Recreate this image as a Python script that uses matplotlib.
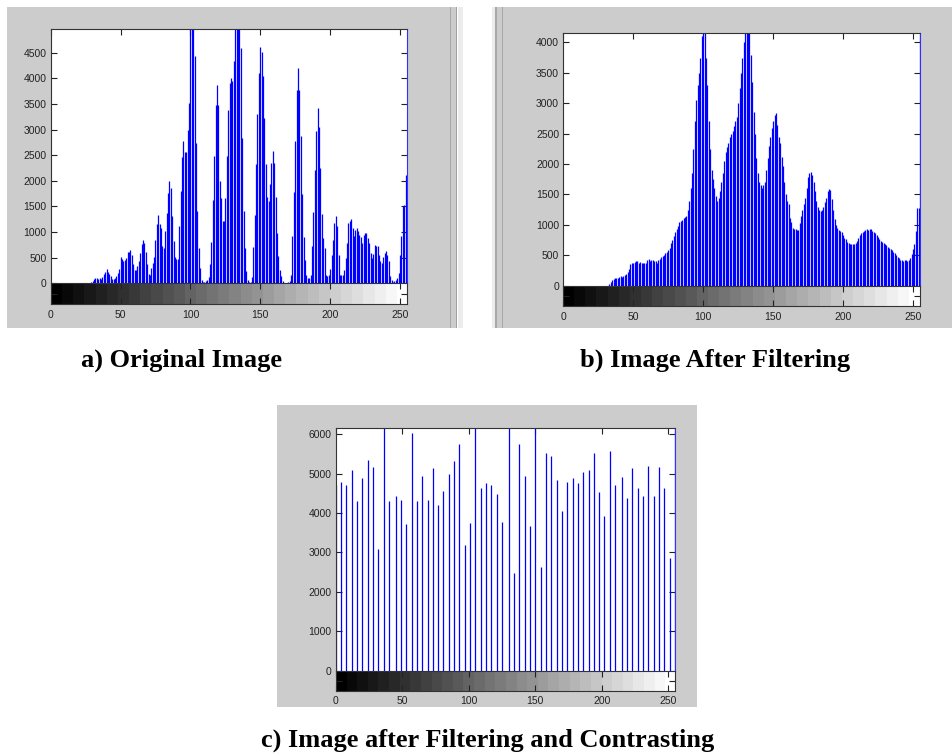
import numpy as np
import matplotlib
matplotlib.use("Agg")
import matplotlib.pyplot as plt
from matplotlib.patches import Rectangle

plt.rcParams["font.family"] = ["Liberation Sans", "DejaVu Sans"]

# ---- data (counts per gray level) ----
# a) original image, levels 0..255
hist_a = [0] * 28 + [
    0, 25, 50, 90, 95, 95, 90, 100, 90, 130,            # 28-37
    180, 230, 280, 230, 180, 135, 90, 80, 105, 150,     # 38-47
    200, 285, 510, 480, 440, 460, 495, 610, 620, 650,   # 48-57
    560, 380, 260, 250, 330, 430, 590, 770, 845, 780,   # 58-67
    610, 380, 180, 155, 300, 400, 520, 850, 1160, 1330, # 68-77
    1150, 1080, 720, 690, 1015, 1375, 1765, 2005, 1860, 1310,  # 78-87
    820, 510, 480, 480, 1110, 1800, 2460, 2775, 2565, 2560,    # 88-97
    3000, 3520, 5200, 5200, 5200, 4435, 2740, 1405, 690, 300,  # 98-107
    70, 25, 20, 40, 60, 115, 380, 800, 1630, 2480,             # 108-117
    3490, 3880, 3490, 2000, 1670, 1210, 1210, 1670, 2480, 3390,  # 118-127
    3915, 4010, 3950, 4350, 5200, 5200, 5200, 5200, 4600, 2840,  # 128-137
    1405, 690, 235, 60, 20, 30, 115, 700, 1330, 2320,            # 138-147
    3310, 4110, 4615, 4510, 4040, 3230, 2330, 1680, 1615, 1940,  # 148-157
    2350, 2580, 2350, 1680, 985, 525, 250, 135, 40, 10,          # 158-167
    5, 0, 20, 40, 155, 920, 1785, 2775, 3780, 4205,              # 168-177
    3780, 2870, 1750, 900, 460, 170, 105, 110, 170, 720,         # 178-187
    1385, 2205, 2970, 3425, 3045, 2250, 1350, 885, 680, 170,     # 188-197
    135, 160, 285, 560, 855, 1180, 1310, 1115, 560, 170,         # 198-207
    155, 160, 265, 500, 790, 1180, 1225, 1250, 1080, 920,        # 208-217
    1050, 1080, 1015, 950, 900, 790, 950, 985, 985, 885,         # 218-227
    790, 590, 495, 575, 740, 720, 720, 560, 430, 395,            # 228-237
    510, 590, 625, 560, 430, 135, 70, 25, 40, 70,                # 238-247
    100, 200, 560, 920, 1505, 1520, 2120, 2100,                  # 248-255
]

# b) image after filtering, levels 0..255
hist_b = [0] * 33 + [
    30, 60, 90, 110, 120, 130, 130,                              # 33-39
    140, 160, 150, 160, 170, 200, 220, 280, 350, 370,            # 40-49
    370, 390, 410, 400, 380, 390, 370, 380, 370, 380,            # 50-59
    420, 440, 410, 430, 420, 400, 410, 370, 420, 440,            # 60-69
    470, 490, 510, 540, 560, 590, 620, 700, 750, 820,            # 70-79
    880, 930, 980, 1050, 1060, 1080, 1120, 1130, 1150, 1250,     # 80-89
    1400, 1600, 1850, 2250, 2700, 3050, 3300, 3500, 3750, 4100,  # 90-99
    4300, 4300, 3750, 3300, 2700, 2250, 1900, 1750, 1600, 1480,  # 100-109
    1400, 1450, 1550, 1700, 1850, 2050, 2200, 2280, 2350, 2450,  # 110-119
    2500, 2550, 2620, 2700, 2780, 3000, 3250, 3500, 3750, 4000,  # 120-129
    4300, 4300, 4300, 4300, 3800, 3350, 2850, 2500, 2100, 1850,  # 130-139
    1700, 1650, 1600, 1650, 1700, 1900, 2100, 2290, 2450, 2600,  # 140-149
    2700, 2800, 2835, 2650, 2450, 2340, 2120, 1960, 1700, 1500,  # 150-159
    1400, 1350, 1110, 1050, 950, 940, 925, 915, 915, 1025,       # 160-169
    1150, 1250, 1350, 1435, 1600, 1790, 1850, 1875, 1820, 1700,  # 170-179
    1550, 1400, 1300, 1250, 1230, 1250, 1290, 1380, 1450, 1560,  # 180-189
    1590, 1570, 1420, 1250, 1100, 1000, 950, 920, 900, 880,      # 190-199
    830, 790, 760, 720, 700, 690, 680, 680, 690, 700,            # 200-209
    730, 780, 830, 860, 880, 900, 910, 925, 920, 930,            # 210-219
    925, 900, 880, 860, 830, 800, 770, 740, 720, 700,            # 220-229
    690, 670, 640, 620, 600, 580, 560, 540, 500, 470,            # 230-239
    450, 430, 420, 410, 415, 420, 405, 420, 460, 520,            # 240-249
    600, 690, 900, 1270, 1280, 4300,                             # 250-255
]

# c) after filtering and contrasting: 64 occupied levels
levels_c = np.round(np.arange(64) * 255 / 63)
hist_c = [
    4700, 4800, 4720, 5100, 4300, 4900, 5350, 5180, 3080, 6400,
    4300, 4420, 4340, 3720, 6030, 4300, 4930, 4340, 5150, 4200,
    4560, 5000, 5330, 5760, 3200, 3750, 6500, 4640, 4750, 4720,
    4480, 3770, 6600, 2480, 5740, 4950, 3680, 6300, 2620, 5530,
    5450, 4840, 4050, 4800, 4880, 4770, 5030, 5100, 5530, 4540,
    3920, 5580, 4720, 4920, 4380, 5150, 4630, 4420, 5200, 4420,
    5180, 4640, 2850, 7000,
]

captions = ["a) Original Image", "b) Image After Filtering",
            "c) Image after Filtering and Contrasting"]

W, H = 953, 756
fig = plt.figure(figsize=(W / 100, H / 100), dpi=100)
fig.patch.set_facecolor("white")

FRAME = "#cccccc"


def rect(l, t, r, b):
    return [l / W, 1 - b / H, (r - l) / W, (b - t) / H]


def band(l, t, r, b, color):
    fig.patches.append(Rectangle((l / W, 1 - b / H), (r - l) / W, (b - t) / H,
                                 transform=fig.transFigure, color=color,
                                 lw=0, zorder=-5))


# grey window backgrounds
band(7, 7, 450, 328, FRAME)
band(450, 7, 451.5, 328, "#a8a8a8")
band(451.5, 7, 456, 328, FRAME)
band(456, 7, 457.5, 328, "#a0a0a0")
band(457.5, 7, 463, 328, "#ececec")
band(492, 7, 495, 328, "#ececec")
band(495, 7, 497, 328, "#a8a8a8")
band(497, 7, 502, 328, FRAME)
band(502, 7, 503.5, 328, "#a8a8a8")
band(503.5, 7, 953, 328, FRAME)
band(277, 405, 697, 707, FRAME)

gray_strip = np.linspace(0, 1, 32).reshape(1, -1)


def histpanel(box, x, counts, ymax, yticks):
    l, t, r, b, cb = box
    ax = fig.add_axes(rect(l, t, r, b))
    ax.set_zorder(2)
    ax.set_facecolor("white")
    ax.vlines(x, 0, counts, color="#0000ff", lw=0.9)
    ax.set_xlim(0, 255)
    ax.set_ylim(0, ymax)
    ax.set_xticks([0, 50, 100, 150, 200, 250])
    ax.set_xticklabels([])
    ax.set_yticks(yticks)
    ax.set_yticklabels([str(v) for v in yticks])
    ax.tick_params(direction="in", length=4, width=0.8, top=True, right=True,
                   bottom=False, labelsize=7.5, colors="#222222", pad=3)
    for s in ax.spines.values():
        s.set_color("#333333")
        s.set_linewidth(0.8)
    ax.spines["right"].set_color("#3030ff")
    ax.spines["bottom"].set_visible(False)

    cax = fig.add_axes(rect(l, b, r, cb))
    cax.set_zorder(2)
    cax.imshow(gray_strip, cmap="gray", aspect="auto", vmin=0, vmax=1,
               extent=[0, 255, 0, 1], interpolation="nearest")
    cax.set_xlim(0, 255)
    cax.set_ylim(0, 1)
    cax.set_xticks([0, 50, 100, 150, 200, 250])
    cax.set_yticks([0.5])
    cax.set_yticklabels([])
    cax.tick_params(direction="in", length=4, width=0.8, top=True, right=True,
                    labelsize=7.5, colors="#222222", pad=4)
    for s in cax.spines.values():
        s.set_color("#333333")
        s.set_linewidth(0.8)
    return ax


histpanel((50.7, 29.3, 407, 283.3, 304), np.arange(len(hist_a)), hist_a,
          4960, list(range(0, 5000, 500)))
histpanel((563.3, 32.7, 920, 285.7, 306), np.arange(len(hist_b)), hist_b,
          4160, list(range(0, 4500, 500)))
histpanel((335.7, 428.3, 675, 670.7, 690.7), levels_c, hist_c,
          6150, list(range(0, 7000, 1000)))

cap_font = dict(family="Liberation Serif", weight="bold", fontsize=19,
                ha="center", va="center", color="black")
fig.text(181.5 / W, 1 - 360 / H, captions[0], **cap_font)
fig.text(715.5 / W, 1 - 360 / H, captions[1], **cap_font)
fig.text(487.5 / W, 1 - 740 / H, captions[2], **cap_font)

fig.savefig("out.png", dpi=100, facecolor="white")
